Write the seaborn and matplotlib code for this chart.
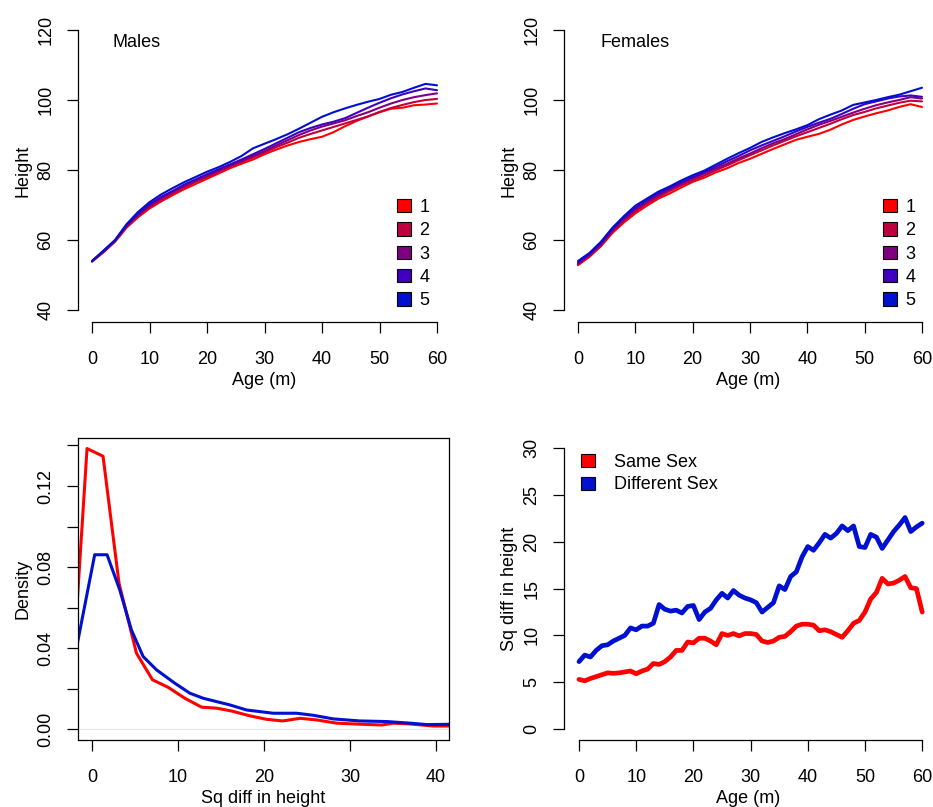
import numpy as np
import pandas as pd
import matplotlib
matplotlib.use("Agg")
import matplotlib.pyplot as plt
import seaborn as sns
from matplotlib.patches import Patch

# ---------------- data ----------------
ages = list(range(0, 61, 2))
groups = ["1", "2", "3", "4", "5"]
group_colors = ["#FF0000", "#BF003F", "#7F007F", "#3F00BF", "#0010D0"]

male_1 = [53.8, 56.5, 59.5, 63.5, 66.5, 69.0, 71.0, 72.8, 74.5, 76.0, 77.5, 79.0, 80.5, 81.8, 83.0, 84.5,
          85.8, 87.0, 88.0, 88.8, 89.5, 90.8, 92.5, 94.0, 95.3, 96.5, 97.5, 97.8, 98.5, 98.7, 99.0]
male_2 = [53.9, 56.6, 59.6, 63.8, 66.8, 69.4, 71.5, 73.3, 75.0, 76.6, 78.0, 79.5, 81.0, 82.3, 83.6, 85.0,
          86.5, 87.8, 89.2, 90.3, 91.3, 92.3, 93.3, 94.3, 95.3, 96.6, 97.7, 98.6, 99.4, 100.0, 100.3]
male_3 = [53.9, 56.7, 59.8, 64.0, 67.2, 69.8, 71.9, 73.7, 75.4, 77.0, 78.4, 79.8, 81.3, 82.6, 84.0, 85.4,
          87.0, 88.5, 90.0, 91.3, 92.4, 93.3, 94.2, 95.4, 96.5, 97.8, 99.0, 100.0, 100.8, 101.4, 101.9]
male_4 = [54.0, 56.8, 59.9, 64.2, 67.5, 70.2, 72.3, 74.0, 75.8, 77.3, 78.8, 80.2, 81.6, 83.0, 84.5, 86.0,
          87.6, 89.2, 90.8, 92.0, 93.0, 93.8, 94.8, 96.3, 97.8, 99.2, 100.5, 101.6, 102.5, 103.3, 102.8]
male_5 = [54.0, 57.0, 60.0, 64.5, 68.0, 70.8, 73.0, 74.8, 76.5, 78.0, 79.5, 80.8, 82.3, 84.0, 86.2, 87.5,
          88.8, 90.2, 91.8, 93.5, 95.2, 96.5, 97.6, 98.6, 99.5, 100.3, 101.5, 102.3, 103.5, 104.6, 104.2]

female_1 = [52.8, 55.2, 58.2, 62.0, 65.0, 67.6, 69.8, 71.8, 73.3, 75.0, 76.6, 77.8, 79.3, 80.5, 82.0, 83.2,
            84.6, 86.0, 87.3, 88.6, 89.5, 90.3, 91.5, 93.0, 94.3, 95.3, 96.2, 97.0, 98.0, 98.8, 98.0]
female_2 = [53.0, 55.5, 58.5, 62.4, 65.5, 68.2, 70.4, 72.3, 74.0, 75.6, 77.1, 78.4, 79.9, 81.3, 82.8, 84.2,
            85.6, 87.0, 88.3, 89.6, 90.8, 92.0, 93.2, 94.5, 95.7, 96.6, 97.6, 98.4, 99.2, 99.8, 99.6]
female_3 = [53.3, 55.8, 58.8, 62.8, 66.0, 68.7, 70.9, 72.8, 74.5, 76.1, 77.6, 79.0, 80.4, 81.8, 83.3, 84.7,
            86.2, 87.6, 88.8, 90.2, 91.6, 92.9, 94.0, 95.2, 96.4, 97.5, 98.5, 99.3, 100.0, 100.8, 100.4]
female_4 = [53.6, 56.0, 59.1, 63.1, 66.4, 69.2, 71.4, 73.3, 74.9, 76.5, 78.0, 79.4, 80.9, 82.5, 84.0, 85.6,
            87.0, 88.3, 89.6, 91.0, 92.3, 93.5, 94.6, 96.0, 97.5, 98.8, 99.6, 100.4, 101.0, 101.3, 100.9]
female_5 = [54.0, 56.3, 59.5, 63.5, 66.8, 69.8, 71.8, 73.8, 75.3, 77.0, 78.5, 79.8, 81.5, 83.2, 84.8, 86.3,
            88.0, 89.3, 90.5, 91.6, 92.8, 94.5, 95.8, 97.0, 98.6, 99.3, 100.0, 100.8, 101.5, 102.5, 103.5]

dens_same_x = [-2.44, -0.58, 1.28, 3.14, 5.17, 7.03, 8.85, 10.79, 12.74, 14.48, 16.23, 18.36, 20.3, 22.16,
               24.18, 26.12, 28.45, 31.16, 33.69, 35.04, 37.0, 39.7, 42.5]
dens_same_y = [0.015, 0.1385, 0.1347, 0.072, 0.0375, 0.0244, 0.0207, 0.0153, 0.0109, 0.0104, 0.009, 0.0066,
               0.0049, 0.0041, 0.0054, 0.0046, 0.003, 0.0025, 0.0021, 0.003, 0.0026, 0.0016, 0.0016]
dens_diff_x = [-2.5, 0.31, 1.75, 3.22, 4.58, 5.94, 7.5, 9.63, 11.37, 12.92, 16.03, 17.97, 21.07, 23.79,
               25.72, 28.05, 31.16, 34.27, 37.0, 38.93, 42.5]
dens_diff_y = [0.025, 0.0861, 0.0861, 0.0688, 0.049, 0.0359, 0.0293, 0.0227, 0.0178, 0.0153, 0.012, 0.0095,
               0.0079, 0.0079, 0.0069, 0.0051, 0.0041, 0.0038, 0.003, 0.0023, 0.0025]

months = list(range(0, 61))
sq_same = [5.3, 5.15, 5.4, 5.6, 5.8, 6.0, 5.95, 6.0, 6.1, 6.2, 5.9, 6.2, 6.4, 7.0, 6.9, 7.2, 7.7, 8.4, 8.4,
           9.3, 9.2, 9.7, 9.7, 9.4, 9.0, 10.2, 10.0, 10.2, 9.95, 10.2, 10.2, 10.1, 9.4, 9.25, 9.4, 9.8, 9.9,
           10.4, 11.0, 11.2, 11.2, 11.1, 10.5, 10.6, 10.4, 10.1, 9.8, 10.5, 11.3, 11.6, 12.5, 13.9, 14.6,
           16.1, 15.5, 15.6, 15.9, 16.3, 15.1, 15.0, 12.5]
sq_diff = [7.2, 7.9, 7.7, 8.4, 8.9, 9.0, 9.4, 9.7, 10.0, 10.8, 10.6, 11.0, 11.0, 11.3, 13.3, 12.8, 12.6,
           12.7, 12.4, 13.1, 13.2, 11.7, 12.5, 12.9, 13.8, 14.5, 14.0, 14.8, 14.3, 14.0, 13.8, 13.5, 12.5,
           13.0, 13.5, 15.3, 14.9, 16.3, 16.8, 18.4, 19.5, 19.1, 19.9, 20.8, 20.4, 20.9, 21.7, 21.2, 21.7,
           19.5, 19.4, 20.8, 20.5, 19.3, 20.2, 21.1, 21.8, 22.6, 21.1, 21.6, 22.0]
pair_labels = ["Same Sex", "Different Sex"]
pair_colors = ["#FF0000", "#0010D0"]

# ---------------- tables ----------------
def long_table(series_list):
    rows = []
    for g, vals in zip(groups, series_list):
        for a, v in zip(ages, vals):
            rows.append((a, v, g))
    return pd.DataFrame(rows, columns=["age", "height", "group"])

df_m = long_table([male_1, male_2, male_3, male_4, male_5])
df_f = long_table([female_1, female_2, female_3, female_4, female_5])
df_dens = pd.concat([
    pd.DataFrame({"sq": dens_same_x, "density": dens_same_y, "pair": pair_labels[0]}),
    pd.DataFrame({"sq": dens_diff_x, "density": dens_diff_y, "pair": pair_labels[1]}),
])
df_sq = pd.concat([
    pd.DataFrame({"age": months, "sq": sq_same, "pair": pair_labels[0]}),
    pd.DataFrame({"age": months, "sq": sq_diff, "pair": pair_labels[1]}),
])

# ---------------- style ----------------
sns.set_style("white")
plt.rcParams["font.family"] = ["Liberation Sans", "DejaVu Sans"]
plt.rcParams["font.size"] = 13
for k in ("text.color", "axes.labelcolor", "xtick.color", "ytick.color"):
    plt.rcParams[k] = "black"

W, H = 933, 807
fig = plt.figure(figsize=(W / 100, H / 100), dpi=100)


def rect(l, t, r, b):
    return [l / W, 1 - b / H, (r - l) / W, (b - t) / H]


def r_style(ax, box=False, xb=None, yb=None):
    for s in ax.spines.values():
        s.set_linewidth(0.9)
        s.set_color("black")
    if not box:
        ax.spines["top"].set_visible(False)
        ax.spines["right"].set_visible(False)
        ax.spines["bottom"].set_bounds(*xb)
        ax.spines["left"].set_bounds(*yb)
    ax.tick_params(bottom=True, left=True, top=False, right=False,
                   direction="out", length=8, width=0.9, color="black",
                   labelsize=13, labelcolor="black")
    ax.tick_params(axis="x", pad=13)
    ax.tick_params(axis="y", pad=9)
    for lab in ax.get_yticklabels():
        lab.set_rotation(90)
        lab.set_va("center")
    ax.grid(False)


def anchor(ax, px, py):
    return tuple(ax.transAxes.inverted().transform(
        fig.transFigure.transform((px / W, 1 - py / H))))


# ---------- top-left: Males ----------
ax1 = fig.add_axes(rect(78, 19, 451, 322))
sns.lineplot(data=df_m, x="age", y="height", hue="group", palette=group_colors,
             estimator=None, linewidth=1.5, legend=False, ax=ax1)
ax1.set_xlim((78 - 92) / 5.75, (451 - 92) / 5.75)
ax1.set_ylim(40 - (322 - 310) / 3.5, 120 + (30 - 19) / 3.5)
ax1.set_xticks([0, 10, 20, 30, 40, 50, 60])
ax1.set_yticks([40, 60, 80, 100, 120])
ax1.set_xlabel("Age (m)", fontsize=13, labelpad=3)
ax1.set_ylabel("Height", fontsize=13, labelpad=4)
r_style(ax1, xb=(0, 60), yb=(40, 120))
ax1.text(3.6, 116.3, "Males", fontsize=13, ha="left", va="center")

# ---------- top-right: Females ----------
ax2 = fig.add_axes(rect(564, 19, 933, 322))
sns.lineplot(data=df_f, x="age", y="height", hue="group", palette=group_colors,
             estimator=None, linewidth=1.5, legend=False, ax=ax2)
ax2.set_xlim((564 - 578) / 5.733, (933 - 578) / 5.733)
ax2.set_ylim(40 - (322 - 310) / 3.5, 120 + (30 - 19) / 3.5)
ax2.set_xticks([0, 10, 20, 30, 40, 50, 60])
ax2.set_yticks([40, 60, 80, 100, 120])
ax2.set_xlabel("Age (m)", fontsize=13, labelpad=3)
ax2.set_ylabel("Height", fontsize=13, labelpad=4)
r_style(ax2, xb=(0, 60), yb=(40, 120))
ax2.text(3.84, 116.3, "Females", fontsize=13, ha="left", va="center")

for ax, px in ((ax1, 397), (ax2, 883)):
    handles = [Patch(facecolor=c, edgecolor="black", linewidth=0.8) for c in group_colors]
    ax.legend(handles, groups, loc="upper left", frameon=False, fontsize=13,
              handlelength=0.8, handleheight=0.75, handletextpad=0.45, labelspacing=0.35,
              borderpad=0, borderaxespad=0, bbox_to_anchor=anchor(ax, px, 199))

# ---------- bottom-left: Density ----------
ax3 = fig.add_axes(rect(78, 438, 449, 740))
ax3.axhline(0, color="#e6e6e6", linewidth=0.8, zorder=0)
sns.lineplot(data=df_dens, x="sq", y="density", hue="pair", palette=pair_colors,
             estimator=None, sort=False, linewidth=2.2, legend=False, ax=ax3)
ax3.set_xlim(-1.63, 41.5)
ax3.set_ylim(-0.0053, 0.1437)
ax3.set_xticks([0, 10, 20, 30, 40])
ax3.set_yticks([0, 0.02, 0.04, 0.06, 0.08, 0.10, 0.12, 0.14])
ax3.set_yticklabels(["0.00", "", "0.04", "", "0.08", "", "0.12", ""])
ax3.set_xlabel("Sq diff in height", fontsize=13, labelpad=3)
ax3.set_ylabel("Density", fontsize=13, labelpad=4)
r_style(ax3, box=True)

# ---------- bottom-right: Sq diff vs age ----------
ax4 = fig.add_axes(rect(564, 437, 933, 740))
sns.lineplot(data=df_sq, x="age", y="sq", hue="pair", palette=pair_colors,
             estimator=None, linewidth=3.4, legend=False, ax=ax4)
ax4.set_xlim((564 - 579) / 5.72, (933 - 579) / 5.72)
ax4.set_ylim(-(740 - 729) / 9.357, 30 + (448.3 - 437) / 9.357)
ax4.set_xticks([0, 10, 20, 30, 40, 50, 60])
ax4.set_yticks([0, 5, 10, 15, 20, 25, 30])
ax4.set_xlabel("Age (m)", fontsize=13, labelpad=3)
ax4.set_ylabel("Sq diff in height", fontsize=13, labelpad=4)
r_style(ax4, xb=(0, 60), yb=(0, 30))
handles = [Patch(facecolor=c, edgecolor="black", linewidth=0.8) for c in pair_colors]
ax4.legend(handles, pair_labels, loc="upper left", frameon=False, fontsize=13,
           handlelength=0.8, handleheight=0.75, handletextpad=1.0, labelspacing=0.3,
           borderpad=0, borderaxespad=0, bbox_to_anchor=anchor(ax4, 581, 454))

fig.savefig("out.png", dpi=100)
